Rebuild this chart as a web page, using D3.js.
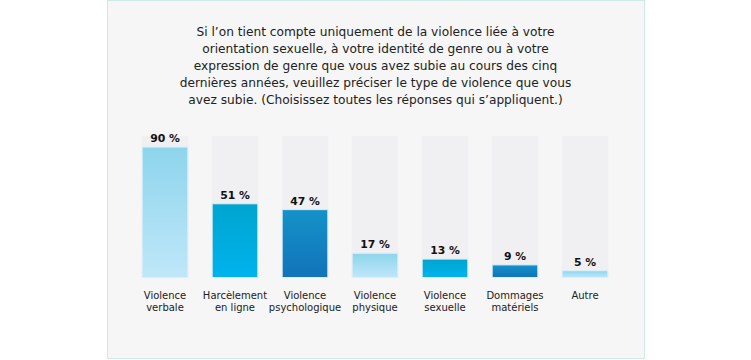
<!DOCTYPE html>
<html><head><meta charset="utf-8">
<script src="https://cdn.jsdelivr.net/npm/d3@7"></script>
<style>
html,body{margin:0;padding:0;background:#fff;}
svg{display:block;}
</style></head>
<body>
<svg id="chart" width="751" height="360"></svg>
<script>
const titleLines = [
  "Si l’on tient compte uniquement de la violence liée à votre",
  "orientation sexuelle, à votre identité de genre ou à votre",
  "expression de genre que vous avez subie au cours des cinq",
  "dernières années, veuillez préciser le type de violence que vous",
  "avez subie. (Choisissez toutes les réponses qui s’appliquent.)"
];
const categories = [
  ["Violence","verbale"],
  ["Harcèlement","en ligne"],
  ["Violence","psychologique"],
  ["Violence","physique"],
  ["Violence","sexuelle"],
  ["Dommages","matériels"],
  ["Autre"]
];
const values = [90, 51, 47, 17, 13, 9, 5];
const palettes = [
  ["#8dd5ec", "#c0e7f9"],
  ["#00a5cf", "#00b3ee"],
  ["#1592c9", "#1173b9"]
];

const svg = d3.select("#chart");
const font = "'Century Gothic', 'URW Gothic', 'DejaVu Sans', sans-serif";

svg.append("rect").attr("x",107.5).attr("y",0.5).attr("width",537).attr("height",358)
  .attr("fill","#f6f6f6").attr("stroke","#cfe9e4").attr("stroke-width",1);

const defs = svg.append("defs");
palettes.forEach((p,i)=>{
  const g = defs.append("linearGradient").attr("id","g"+i).attr("x1",0).attr("y1",0).attr("x2",0).attr("y2",1);
  g.append("stop").attr("offset","0%").attr("stop-color",p[0]);
  g.append("stop").attr("offset","100%").attr("stop-color",p[1]);
});

const t = svg.append("text").attr("text-anchor","middle").attr("font-family",font)
  .attr("font-size",12.2).attr("fill","#222");
titleLines.forEach((l,i)=>{
  t.append("tspan").attr("x",375.5).attr("y",36 + i*17).text(l);
});

const idx = d3.range(categories.length);
const x = d3.scaleBand().domain(idx).range([130,620]).paddingInner(1/3).paddingOuter(1/6);
const y = d3.scaleLinear().domain([0,100]).range([278,132.5]);

const g = svg.append("g");
g.selectAll("rect.track").data(idx).join("rect").attr("class","track")
  .attr("x",d=>x(d)).attr("width",x.bandwidth())
  .attr("y",136).attr("height",278-136).attr("fill","#f0f0f2");

g.selectAll("rect.bar").data(idx).join("rect").attr("class","bar")
  .attr("x",d=>x(d)+0.5).attr("width",x.bandwidth()-1)
  .attr("y",d=>y(values[d])).attr("height",d=>y(0)-y(values[d])-0.5)
  .attr("fill",d=>`url(#g${d%3})`).attr("stroke","#dbeffa").attr("stroke-width",1);

g.selectAll("text.val").data(idx).join("text").attr("class","val")
  .attr("x",d=>x(d)+x.bandwidth()/2).attr("y",d=>y(values[d])-5)
  .attr("text-anchor","middle").attr("font-family",font).attr("font-weight","bold")
  .attr("font-size",10.8).attr("fill","#111")
  .text(d=>values[d]+" %");

const cl = g.selectAll("text.cat").data(idx).join("text").attr("class","cat")
  .attr("text-anchor","middle").attr("font-family",font).attr("font-size",10).attr("fill","#222");
cl.each(function(d){
  const el = d3.select(this);
  categories[d].forEach((s,j)=>{
    el.append("tspan").attr("x",x(d)+x.bandwidth()/2).attr("y",299+j*12).text(s);
  });
});
</script>
</body></html>
